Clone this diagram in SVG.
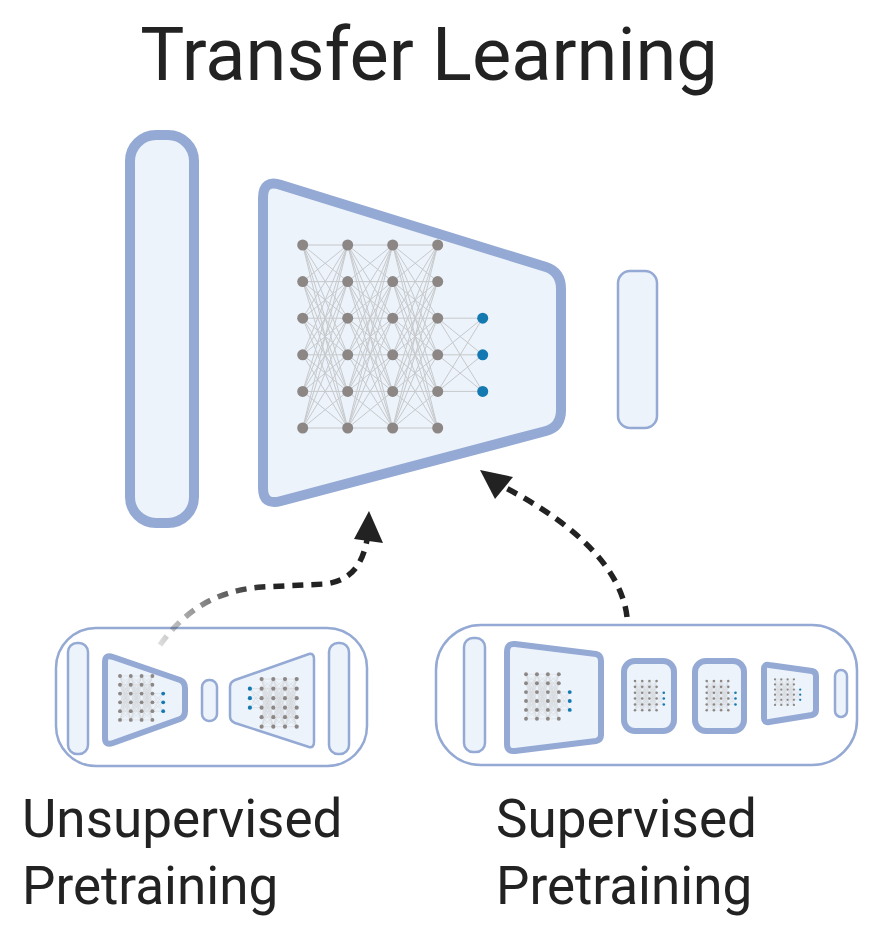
<svg xmlns="http://www.w3.org/2000/svg" xmlns:xlink="http://www.w3.org/1999/xlink" width="886" height="935" viewBox="0 0 886 935">
<style>
.box{fill:#ecf3fb;stroke:#94a9d4;stroke-linejoin:round}
.thick{stroke-width:10}
.med{stroke-width:6}
.thin{stroke-width:2.5}
.outer{fill:none;stroke:#94a9d4;stroke-width:2.5}
.lbl{font-family:Roboto,"Liberation Sans",sans-serif;fill:#222}
.e{stroke:#b8b8b8;stroke-width:1;opacity:.7}
.es{stroke:#c4c4c4;stroke-width:2;opacity:.6}
.n{fill:#8c8784}
.b{fill:#1479b0}
.dash{fill:none;stroke:#222;stroke-width:5.5;stroke-dasharray:11 8}
</style>
<defs>
<linearGradient id="fade" gradientUnits="userSpaceOnUse" x1="160" y1="645" x2="270" y2="585">
<stop offset="0" stop-color="#222" stop-opacity="0.15"/>
<stop offset="1" stop-color="#222" stop-opacity="1"/>
</linearGradient>
<path id="layer" d="M0 0L45 0M0 0L45 36.6M0 0L45 73.2M0 0L45 109.8M0 0L45 146.4M0 0L45 183M0 36.6L45 0M0 36.6L45 36.6M0 36.6L45 73.2M0 36.6L45 109.8M0 36.6L45 146.4M0 36.6L45 183M0 73.2L45 0M0 73.2L45 36.6M0 73.2L45 73.2M0 73.2L45 109.8M0 73.2L45 146.4M0 73.2L45 183M0 109.8L45 0M0 109.8L45 36.6M0 109.8L45 73.2M0 109.8L45 109.8M0 109.8L45 146.4M0 109.8L45 183M0 146.4L45 0M0 146.4L45 36.6M0 146.4L45 73.2M0 146.4L45 109.8M0 146.4L45 146.4M0 146.4L45 183M0 183L45 0M0 183L45 36.6M0 183L45 73.2M0 183L45 109.8M0 183L45 146.4M0 183L45 183"/>
<path id="outl" d="M135 73.2L180 73.2M135 73.2L180 109.8M135 73.2L180 146.4M135 109.8L180 73.2M135 109.8L180 109.8M135 109.8L180 146.4M135 146.4L180 73.2M135 146.4L180 109.8M135 146.4L180 146.4"/>
<g id="col">
<circle class="n" cx="0" cy="0" r="5.5"/>
<circle class="n" cx="0" cy="36.6" r="5.5"/>
<circle class="n" cx="0" cy="73.2" r="5.5"/>
<circle class="n" cx="0" cy="109.8" r="5.5"/>
<circle class="n" cx="0" cy="146.4" r="5.5"/>
<circle class="n" cx="0" cy="183" r="5.5"/>
</g>
<g id="net">
<g class="e">
<use xlink:href="#layer"/>
<use xlink:href="#layer" x="45"/>
<use xlink:href="#layer" x="90"/>
<use xlink:href="#outl"/>
</g>
<use xlink:href="#col"/>
<use xlink:href="#col" x="45"/>
<use xlink:href="#col" x="90"/>
<use xlink:href="#col" x="135"/>
<circle class="b" cx="180" cy="73.2" r="5.5"/>
<circle class="b" cx="180" cy="109.8" r="5.5"/>
<circle class="b" cx="180" cy="146.4" r="5.5"/>
</g>
<g id="scol">
<circle class="n" cx="0" cy="0" r="8"/>
<circle class="n" cx="0" cy="36.6" r="8"/>
<circle class="n" cx="0" cy="73.2" r="8"/>
<circle class="n" cx="0" cy="109.8" r="8"/>
<circle class="n" cx="0" cy="146.4" r="8"/>
<circle class="n" cx="0" cy="183" r="8"/>
</g>
<g id="snet">
<g class="es">
<use xlink:href="#layer"/>
<use xlink:href="#layer" x="45"/>
<use xlink:href="#layer" x="90"/>
<use xlink:href="#outl"/>
</g>
<use xlink:href="#scol"/>
<use xlink:href="#scol" x="45"/>
<use xlink:href="#scol" x="90"/>
<use xlink:href="#scol" x="135"/>
<circle class="b" cx="180" cy="73.2" r="8"/>
<circle class="b" cx="180" cy="109.8" r="8"/>
<circle class="b" cx="180" cy="146.4" r="8"/>
</g>
</defs>
<rect width="886" height="935" fill="#fff"/>

<g id="title"><text class="lbl" x="429" y="80" font-size="74" text-anchor="middle">Transfer Learning</text></g>

<g id="main-model">
<rect id="input-layer" class="box thick" x="130" y="135" width="64" height="388" rx="26"/>
<g id="encoder">
<path class="box thick" d="M263 198Q263 179 281 185L546 267Q561 272 561 289L561 410Q561 427 546 431L281 501Q263 506 263 488Z"/>
<use xlink:href="#net" transform="translate(302.7 245)"/>
</g>
<rect id="output-layer" class="box thin" x="618" y="271" width="39" height="157" rx="12"/>
</g>

<g id="unsupervised">
<rect class="outer" x="56" y="628" width="311" height="138" rx="40"/>
<rect class="box thin" x="68" y="643" width="20" height="111" rx="9"/>
<path class="box med" d="M105 662Q105 654 113 657L180 680Q185 682 185 688L185 711Q185 717 180 719L113 743Q105 746 105 738Z"/>
<use xlink:href="#snet" transform="translate(120 676) scale(0.24)"/>
<rect class="box thin" x="202" y="680" width="15" height="41" rx="7"/>
<path class="box thin" d="M314 659Q314 653 309 654L235 680Q230 682 230 687L230 716Q230 721 235 723L309 747Q314 748 314 742Z"/>
<use xlink:href="#snet" transform="translate(296.7 726.7) scale(-0.26)"/>
<rect class="box thin" x="329" y="643" width="20" height="111" rx="9"/>
</g>

<g id="supervised">
<rect class="outer" x="436" y="625" width="421" height="140" rx="45"/>
<rect class="box thin" x="464" y="638" width="21" height="114" rx="9"/>
<path class="box med" d="M507 652Q507 643 515 644L596 654Q601 655 601 661L601 735Q601 740 596 741L515 751Q507 752 507 744Z"/>
<use xlink:href="#snet" transform="translate(526 674.3) scale(0.243)"/>
<rect class="box med" x="624" y="661" width="50" height="70" rx="11"/>
<use xlink:href="#snet" transform="translate(635 681) scale(0.16)"/>
<rect class="box med" x="695" y="661" width="49" height="70" rx="11"/>
<use xlink:href="#snet" transform="translate(706.7 681) scale(0.16)"/>
<path class="box med" d="M764 669Q764 664 769 665L812 671Q816 672 816 676L816 710Q816 714 812 715L769 722Q764 723 764 718Z"/>
<use xlink:href="#snet" transform="translate(775 679.3) scale(0.14)"/>
<rect class="box thin" x="835" y="670" width="12" height="47" rx="6"/>
</g>

<g id="connectors">
<path class="dash" style="stroke:url(#fade)" d="M160 645C190 603 225 590 262 587L325 584C350 581 362 566 367 540"/>
<path d="M369 511L383 543L354 539Z" fill="#222"/>
<path class="dash" d="M627 617C622 572 580 526 502 486"/>
<path d="M480 470L495 499L513 477Z" fill="#222"/>
</g>

<g id="labels">
<text class="lbl" x="22" y="837" font-size="53">Unsupervised</text>
<text class="lbl" x="22" y="904" font-size="53">Pretraining</text>
<text class="lbl" x="496" y="837" font-size="53">Supervised</text>
<text class="lbl" x="496" y="904" font-size="53">Pretraining</text>
</g>
</svg>
